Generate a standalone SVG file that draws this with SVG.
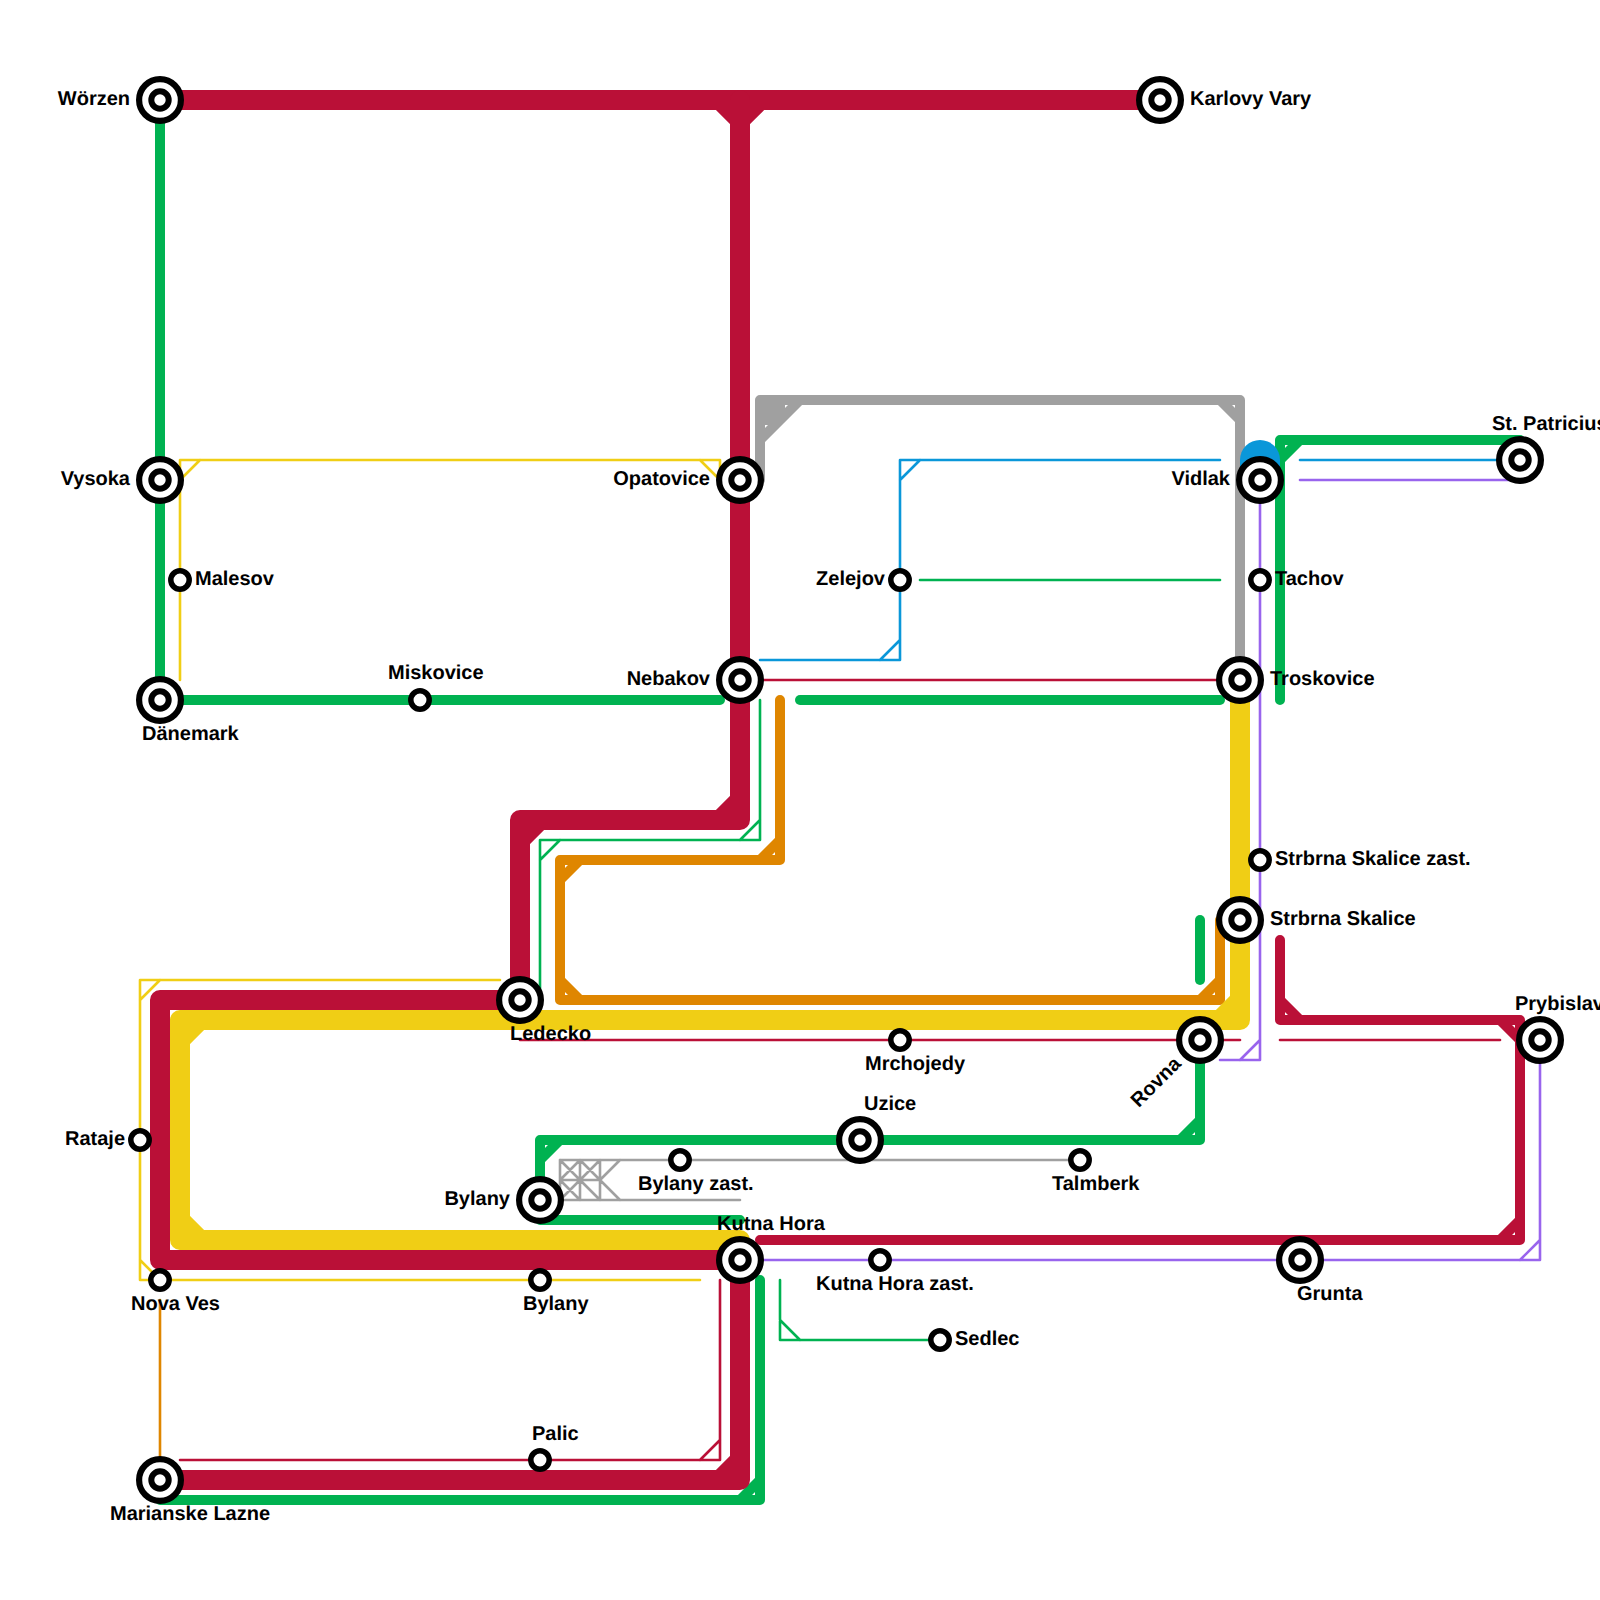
<svg xmlns="http://www.w3.org/2000/svg" width="1600" height="1600" viewBox="0 0 1600 1600">
<style>
.l{fill:none;stroke-linecap:round;stroke-linejoin:round}
.w20{stroke-width:20}.w10{stroke-width:10}.w2{stroke-width:2.6}
.red{stroke:#BA1037}.green{stroke:#00B251}.yellow{stroke:#F0CE15}.orange{stroke:#DF8600}.blue{stroke:#0A97D9}.purple{stroke:#9964ED}.gray{stroke:#A0A0A0}
.o{fill:#fff;stroke:#000;stroke-width:6.2}
.i{fill:#fff;stroke:#000;stroke-width:6}
.s{fill:#fff;stroke:#000;stroke-width:5.5}
text{font-family:"Liberation Sans",Arial,sans-serif;font-weight:700;font-size:20px;fill:#000;text-rendering:geometricPrecision}
.e{text-anchor:end}
</style>
<rect width="1600" height="1600" fill="#fff"/>
<g id="connectors">
<path class="l w2 yellow" d="M180 680V460H720V480M180 480L200 460M700 460L720 480"/>
<path class="l w2 yellow" d="M500 980H140V1280H700M140 1000L160 980M140 1260L160 1280"/>
<path class="l w2 orange" d="M160 1300V1460"/>
<path class="l w2 blue" d="M1220 460H900V660H760M900 480L920 460M900 640L880 660"/>
<path class="l w2 blue" d="M1300 460H1520"/>
<path class="l w2 purple" d="M1300 480H1520"/>
<path class="l w2 purple" d="M1260 480V1060H1220M1260 1040L1240 1060"/>
<path class="l w2 purple" d="M740 1260H1540V1040M1540 1240L1520 1260"/>
<path class="l w2 red" d="M740 680H1240"/>
<path class="l w2 red" d="M520 1040H1240"/>
<path class="l w2 red" d="M1280 1040H1500"/>
<path class="l w2 red" d="M720 1280V1460H180M720 1440L700 1460"/>
<path class="l w2 green" d="M920 580H1220"/>
<path class="l w2 green" d="M540 1000V840H760V700M540 860L560 840M760 820L740 840"/>
<path class="l w2 green" d="M780 1280V1340H940M780 1320L800 1340"/>
<path class="l w2 gray" d="M560 1160H1080M560 1200H740M560 1160V1200M580 1160V1200M600 1160V1200M560 1180H600M560 1160L600 1200M580 1160L560 1180M600 1160L560 1200M560 1180L580 1200M580 1160L600 1180M600 1180L620 1160M600 1180L620 1200"/>
<path class="l w10 gray" d="M760 480V400H1240V680M760 440L800 400M760 420H780V400M765 410H775M1220 400L1240 420"/>
<path class="l w10 green" d="M160 100V700H720"/>
<path class="l w10 green" d="M800 700H1220"/>
<path class="l w10 green" d="M1520 440H1280V700M1280 460L1300 440"/>
<path class="l w10 green" d="M1200 920V980"/>
<path class="l w10 green" d="M1200 1040V1140H540V1220H740M1200 1120L1180 1140M540 1160L560 1140"/>
<path class="l w10 green" d="M760 1280V1500H160M760 1480L740 1500"/>
<path class="l w10 orange" d="M780 700V860H560V1000H1220V920M780 840L760 860M560 880L580 860M560 980L580 1000M1220 980L1200 1000"/>
<path class="l w10 red" d="M760 1240H1520V1020H1280V940M1280 1000L1300 1020M1500 1020L1520 1040M1520 1220L1500 1240"/>
<path class="l w20 red" d="M160 100H1160M720 100L740 120L760 100"/>
<path class="l w20 red" d="M740 100V820H520V1000H160V1260H740V1480H160M740 800L720 820M520 840L540 820M740 1460L720 1480"/>
<path class="l w20 yellow" d="M740 1240H180V1020H1240V680M180 1040L200 1020M180 1220L200 1240M1220 1020L1240 1000"/>
<path class="l blue" style="stroke-width:40" d="M1260 460V480"/>
</g>
<g id="stations">
<g id="worzen"><circle class="o" cx="160" cy="100" r="20.9"/><circle class="i" cx="160" cy="100" r="8.7"/><text class="e" x="130" y="105">Wörzen</text></g>
<g id="karlovy-vary"><circle class="o" cx="1160" cy="100" r="20.9"/><circle class="i" cx="1160" cy="100" r="8.7"/><text x="1190" y="105">Karlovy Vary</text></g>
<g id="vysoka"><circle class="o" cx="160" cy="480" r="20.9"/><circle class="i" cx="160" cy="480" r="8.7"/><text class="e" x="130" y="485">Vysoka</text></g>
<g id="opatovice"><circle class="o" cx="740" cy="480" r="20.9"/><circle class="i" cx="740" cy="480" r="8.7"/><text class="e" x="710" y="485">Opatovice</text></g>
<g id="vidlak"><circle class="o" cx="1260" cy="480" r="20.9"/><circle class="i" cx="1260" cy="480" r="8.7"/><text class="e" x="1230" y="485">Vidlak</text></g>
<g id="st-patricius"><circle class="o" cx="1520" cy="460" r="20.9"/><circle class="i" cx="1520" cy="460" r="8.7"/><text x="1492" y="430">St. Patricius</text></g>
<g id="malesov"><circle class="s" cx="180" cy="580" r="9.2"/><text x="195" y="585">Malesov</text></g>
<g id="zelejov"><circle class="s" cx="900" cy="580" r="9.2"/><text class="e" x="885" y="585">Zelejov</text></g>
<g id="tachov"><circle class="s" cx="1260" cy="580" r="9.2"/><text x="1275" y="585">Tachov</text></g>
<g id="miskovice"><circle class="s" cx="420" cy="700" r="9.2"/><text x="388" y="679">Miskovice</text></g>
<g id="danemark"><circle class="o" cx="160" cy="700" r="20.9"/><circle class="i" cx="160" cy="700" r="8.7"/><text x="142" y="740">Dänemark</text></g>
<g id="nebakov"><circle class="o" cx="740" cy="680" r="20.9"/><circle class="i" cx="740" cy="680" r="8.7"/><text class="e" x="710" y="685">Nebakov</text></g>
<g id="troskovice"><circle class="o" cx="1240" cy="680" r="20.9"/><circle class="i" cx="1240" cy="680" r="8.7"/><text x="1270" y="685">Troskovice</text></g>
<g id="strbrna-zast"><circle class="s" cx="1260" cy="860" r="9.2"/><text x="1275" y="865">Strbrna Skalice zast.</text></g>
<g id="strbrna"><circle class="o" cx="1240" cy="920" r="20.9"/><circle class="i" cx="1240" cy="920" r="8.7"/><text x="1270" y="925">Strbrna Skalice</text></g>
<g id="ledecko"><circle class="o" cx="520" cy="1000" r="20.9"/><circle class="i" cx="520" cy="1000" r="8.7"/><text x="510" y="1040">Ledecko</text></g>
<g id="mrchojedy"><circle class="s" cx="900" cy="1040" r="9.2"/><text x="865" y="1070">Mrchojedy</text></g>
<g id="rovna"><circle class="o" cx="1200" cy="1040" r="20.9"/><circle class="i" cx="1200" cy="1040" r="8.7"/><text class="e" transform="translate(1182 1065) rotate(-45)">Rovna</text></g>
<g id="prybislav"><circle class="o" cx="1540" cy="1040" r="20.9"/><circle class="i" cx="1540" cy="1040" r="8.7"/><text x="1515" y="1010">Prybislav</text></g>
<g id="uzice"><circle class="o" cx="860" cy="1140" r="20.9"/><circle class="i" cx="860" cy="1140" r="8.7"/><text x="864" y="1110">Uzice</text></g>
<g id="rataje"><circle class="s" cx="140" cy="1140" r="9.2"/><text class="e" x="125" y="1145">Rataje</text></g>
<g id="bylany-zast"><circle class="s" cx="680" cy="1160" r="9.2"/><text x="638" y="1190">Bylany zast.</text></g>
<g id="talmberk"><circle class="s" cx="1080" cy="1160" r="9.2"/><text x="1052" y="1190">Talmberk</text></g>
<g id="bylany-big"><circle class="o" cx="540" cy="1200" r="20.9"/><circle class="i" cx="540" cy="1200" r="8.7"/><text class="e" x="510" y="1205">Bylany</text></g>
<g id="kutna-hora"><circle class="o" cx="740" cy="1260" r="20.9"/><circle class="i" cx="740" cy="1260" r="8.7"/><text x="717" y="1230">Kutna Hora</text></g>
<g id="nova-ves"><circle class="s" cx="160" cy="1280" r="9.2"/><text x="131" y="1310">Nova Ves</text></g>
<g id="bylany"><circle class="s" cx="540" cy="1280" r="9.2"/><text x="523" y="1310">Bylany</text></g>
<g id="kutna-hora-zast"><circle class="s" cx="880" cy="1260" r="9.2"/><text x="816" y="1290">Kutna Hora zast.</text></g>
<g id="grunta"><circle class="o" cx="1300" cy="1260" r="20.9"/><circle class="i" cx="1300" cy="1260" r="8.7"/><text x="1297" y="1300">Grunta</text></g>
<g id="sedlec"><circle class="s" cx="940" cy="1340" r="9.2"/><text x="955" y="1345">Sedlec</text></g>
<g id="palic"><circle class="s" cx="540" cy="1460" r="9.2"/><text x="532" y="1440">Palic</text></g>
<g id="marianske"><circle class="o" cx="160" cy="1480" r="20.9"/><circle class="i" cx="160" cy="1480" r="8.7"/><text x="110" y="1520">Marianske Lazne</text></g>
</g>
</svg>
